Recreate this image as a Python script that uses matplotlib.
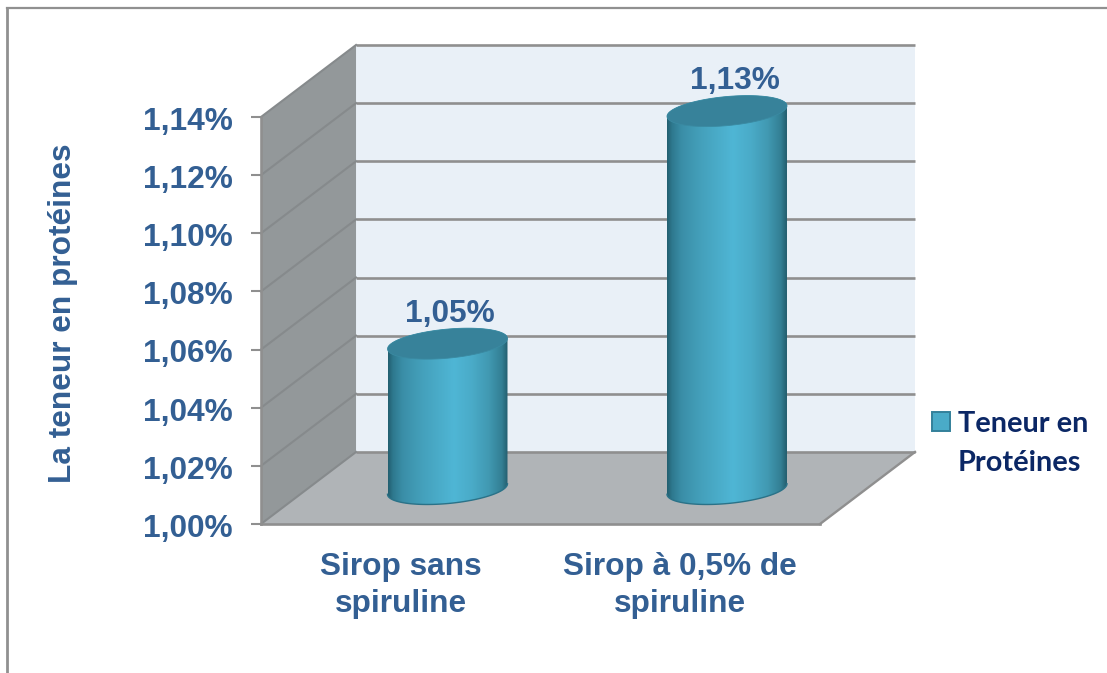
import numpy as np
import matplotlib
matplotlib.use('Agg')
import matplotlib.pyplot as plt
from matplotlib.colors import LinearSegmentedColormap
from matplotlib.lines import Line2D
from matplotlib.patches import Polygon, Rectangle
from matplotlib.transforms import ScaledTranslation

categories = ['Sirop sans\nspiruline', 'Sirop à 0,5% de\nspiruline']
proteines = [1.05, 1.13]
y_ticks = [1.00, 1.02, 1.04, 1.06, 1.08, 1.10, 1.12, 1.14]
legend_lines = ['Teneur en', 'Protéines']
y_title = 'La teneur en protéines'

W, H = 1107, 673
TXT = '#335F93'
GREY = '#8F8F8F'

# oblique depth of the box, in data units per unit of depth
DX = 0.34
DY = 0.02477
BAR_DEPTH = 0.486
R_X = 0.2018
R_D = 0.215

plt.rcParams['font.family'] = ['Liberation Sans', 'DejaVu Sans']

fig = plt.figure(figsize=(W / 100, H / 100), dpi=100)
ax = fig.add_axes([261 / W, 1 - 524 / H, 559 / W, 407 / H])
ax.patch.set_visible(False)


def fx(px):
    return px / W


def fy(px):
    return 1 - px / H


def project(x, val, depth):
    return x + DX * depth, val + DY * depth


def disc(cat, val, t):
    # circle lying in the floor plane, seen through the oblique projection
    return project(cat + R_X * np.cos(t), val, BAR_DEPTH + R_D * np.sin(t))


# outer frame, only top and left show
fig.add_artist(Line2D([fx(7), fx(7)], [fy(8), 0], color='#909090', lw=2))
fig.add_artist(Line2D([fx(7), 1], [fy(8), fy(8)], color='#909090', lw=1.6))

x0, x1 = 0, 2
v0, v1 = y_ticks[0], y_ticks[-1]

# back wall, side wall, floor
ax.add_patch(Polygon([project(x0, v0, 1), project(x1, v0, 1),
                      project(x1, v1, 1), project(x0, v1, 1)],
                     fc='#E9F0F7', ec='none', clip_on=False, zorder=1))
ax.add_patch(Polygon([(x0, v0), project(x0, v0, 1),
                      project(x0, v1, 1), (x0, v1)],
                     fc='#93989A', ec='none', clip_on=False, zorder=1))
ax.add_patch(Polygon([(x0, v0), (x1, v0), project(x1, v0, 1), project(x0, v0, 1)],
                     fc='#B0B4B7', ec='none', clip_on=False, zorder=1))

for v in y_ticks:
    bx, by = project(x0, v, 1)
    ex, _ = project(x1, v, 1)
    ax.plot([bx, ex], [by, by], color=GREY, lw=1.9, clip_on=False, zorder=2,
            solid_capstyle='butt')
    ax.plot([x0, bx], [v, by], color='#868A8C', lw=1.5, clip_on=False, zorder=2)

ex, ey = project(x1, v0, 1)
ax.plot([x1, ex], [v0, ey], color=GREY, lw=1.7, clip_on=False, zorder=2)

body_cmap = LinearSegmentedColormap.from_list('cyl', [
    (0.00, '#225F70'), (0.04, '#2E788E'), (0.12, '#3A8EA7'), (0.28, '#44A0BB'),
    (0.55, '#4FB6D5'), (0.70, '#4AABC8'), (0.84, '#4199B2'), (0.95, '#337F94'),
    (1.00, '#235E6E')])

t_r = np.arctan2(DX * R_D, R_X)
t_l = t_r + np.pi
front = np.linspace(t_l, t_r + 2 * np.pi, 80)
back = np.linspace(t_r, t_l, 80)
whole = np.linspace(0, 2 * np.pi, 160)
strip = np.linspace(0, 1, 256).reshape(1, -1)

for i, val in enumerate(proteines):
    cat = i + 0.5 + 0.002
    fr_x, fr_y = disc(cat, v0, front)
    tb_x, tb_y = disc(cat, val, back)
    verts = np.column_stack([np.r_[fr_x, tb_x], np.r_[fr_y, tb_y]])
    body = Polygon(verts, transform=ax.transData, fc='none', ec='none')
    im = ax.imshow(strip, cmap=body_cmap, aspect='auto', zorder=3,
                   extent=[verts[:, 0].min(), verts[:, 0].max(),
                           verts[:, 1].min(), verts[:, 1].max()])
    im.set_clip_box(fig.bbox)
    im.set_clip_path(body)
    ax.plot(fr_x, fr_y, color='#2A7288', lw=1.0, clip_on=False, zorder=4)
    top_x, top_y = disc(cat, val, whole)
    ax.fill(top_x, top_y, fc='#37829A', ec='#3A8AA2', lw=0.6, clip_on=False, zorder=5)

    lx, ly = project(cat, val, BAR_DEPTH)
    ax.annotate(f'{val:.2f}%'.replace('.', ','), (lx, ly),
                xytext=(1.5 + 4.5 * i, 21.6), textcoords='offset points',
                ha='center', va='center', fontsize=22.8, fontweight='bold',
                color=TXT, zorder=6, annotation_clip=False)

ax.set_xlim(x0, x1)
ax.set_ylim(v0, v1)

ax.set_yticks(y_ticks)
ax.set_yticklabels([f'{v:.2f}%'.replace('.', ',') for v in y_ticks])
ax.set_xticks([0.5, 1.5])
ax.set_xticklabels(categories, linespacing=1.3)
ax.tick_params(axis='y', length=7.2, width=1.5, color=GREY, pad=13,
               labelsize=22.8, labelcolor=TXT)
ax.tick_params(axis='x', length=0, pad=20, labelsize=22.8, labelcolor=TXT)
for lab in ax.get_xticklabels() + ax.get_yticklabels():
    lab.set_fontweight('bold')

# tick labels sit slightly below their ticks
nudge = ScaledTranslation(0, -1 / 72, fig.dpi_scale_trans)
for lab in ax.get_yticklabels():
    lab.set_transform(lab.get_transform() + nudge)

for side in ['top', 'right']:
    ax.spines[side].set_visible(False)
for side in ['left', 'bottom']:
    ax.spines[side].set_color(GREY)
    ax.spines[side].set_linewidth(1.9)
    ax.spines[side].set_zorder(2.5)

ax.set_ylabel(y_title, fontsize=22.8, fontweight='bold', color=TXT)
ax.yaxis.set_label_coords((78 - 261) / 559, (524 - 313) / 407)

# legend
fig.add_artist(Rectangle((fx(932), fy(431)), 18 / W, 19 / H, fc='#4AABC8',
                         ec='#33809A', lw=1.4, transform=fig.transFigure))
for line, py in zip(legend_lines, [424, 463]):
    fig.text(fx(958), fy(py), line, ha='left', va='center', fontsize=20.8,
             fontweight='bold', color='#0B2765', family=['Lato', 'DejaVu Sans'])

fig.savefig('out.png', dpi=100, facecolor='white')
